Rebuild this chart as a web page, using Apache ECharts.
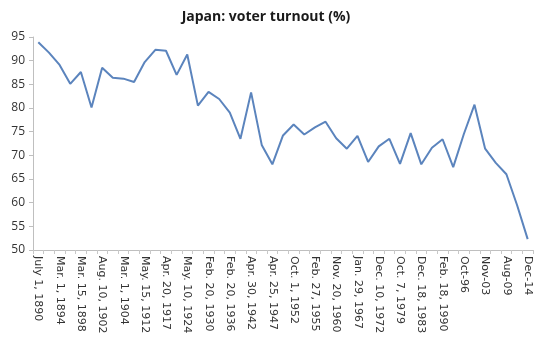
<!DOCTYPE html>
<html>
<head>
<meta charset="utf-8">
<script src="https://cdn.jsdelivr.net/npm/echarts@6/dist/echarts.min.js"></script>
<style>
  html, body { margin: 0; padding: 0; background: #fff; }
  #chart { width: 540px; height: 353px; }
</style>
</head>
<body>
<div id="chart"></div>
<script>
// election dates (every other one gets a label on the axis)
const electionDates = [
  'July 1, 1890', 'Feb. 15, 1892', 'Mar. 1, 1894', 'Sep. 1, 1894', 'Mar. 15, 1898',
  'Aug. 10, 1898', 'Aug. 10, 1902', 'Mar. 1, 1903', 'Mar. 1, 1904', 'May 15, 1908',
  'May. 15, 1912', 'Mar. 25, 1915', 'Apr. 20, 1917', 'May 10, 1920', 'May. 10, 1924',
  'Feb. 20, 1928', 'Feb. 20, 1930', 'Feb. 20, 1932', 'Feb. 20, 1936', 'Apr. 30, 1937',
  'Apr. 30, 1942', 'Apr. 10, 1946', 'Apr. 25, 1947', 'Jan. 23, 1949', 'Oct. 1, 1952',
  'Apr. 19, 1953', 'Feb. 27, 1955', 'May 22, 1958', 'Nov. 20, 1960', 'Nov. 21, 1963',
  'Jan. 29, 1967', 'Dec. 27, 1969', 'Dec. 10, 1972', 'Dec. 5, 1976', 'Oct. 7, 1979',
  'Jun. 22, 1980', 'Dec. 18, 1983', 'Jul. 6, 1986', 'Feb. 18, 1990', 'Jul-93',
  'Oct-96', 'Jun-00', 'Nov-03', 'Sep-05', 'Aug-09', 'Dec-12', 'Dec-14'
];

// turnout in percent
const turnout = [
  93.9, 91.7, 89.1, 85.1, 87.6, 80.1, 88.5, 86.4, 86.2, 85.5,
  89.7, 92.3, 92.1, 87.0, 91.3, 80.5, 83.4, 81.9, 79.0, 73.5,
  83.3, 72.2, 68.1, 74.2, 76.5, 74.4, 75.9, 77.1, 73.6, 71.4,
  74.1, 68.6, 71.9, 73.5, 68.2, 74.7, 68.1, 71.6, 73.4, 67.5,
  74.5, 80.7, 71.4, 68.4, 66.0, 59.5, 52.3
];

const yTicks = { min: 50, max: 95, step: 5 };

const chart = echarts.init(document.getElementById('chart'));

chart.setOption({
  animation: false,
  backgroundColor: '#fff',
  title: {
    text: 'Japan: voter turnout (%)',
    left: 261,
    textAlign: 'center',
    top: 5,
    textStyle: {
      fontFamily: 'Open Sans',
      fontSize: 14,
      fontWeight: 'bold',
      color: '#1a1a1a'
    }
  },
  grid: {
    left: 33,
    right: 7,
    top: 37,
    bottom: 103
  },
  xAxis: {
    type: 'category',
    data: electionDates,
    boundaryGap: true,
    axisLine: { lineStyle: { color: '#bfbfbf', width: 1 } },
    axisTick: { show: true, interval: 0, length: 4, lineStyle: { color: '#c8c8c8' } },
    axisLabel: {
      interval: 1,
      rotate: -90,
      margin: 6,
      fontFamily: 'DejaVu Sans',
      fontSize: 11,
      color: '#333'
    },
    splitLine: { show: false }
  },
  yAxis: {
    type: 'value',
    min: yTicks.min,
    max: yTicks.max,
    interval: yTicks.step,
    axisLine: { show: true, lineStyle: { color: '#bfbfbf', width: 1 } },
    axisTick: { show: true, length: 4, lineStyle: { color: '#bfbfbf' } },
    axisLabel: {
      margin: 8,
      fontFamily: 'Open Sans',
      fontSize: 12,
      color: '#333'
    },
    splitLine: { show: false }
  },
  series: [
    {
      name: 'Turnout',
      type: 'line',
      data: turnout,
      symbol: 'none',
      lineStyle: { color: '#5b84bd', width: 2 },
      itemStyle: { color: '#5b84bd' }
    }
  ]
});
</script>
</body>
</html>
